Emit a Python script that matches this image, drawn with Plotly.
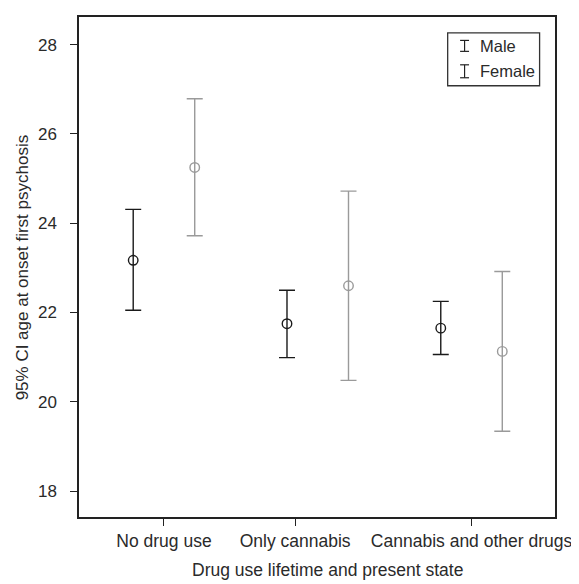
import plotly.graph_objects as go

categories = ["No drug use", "Only cannabis", "Cannabis and other drugs"]
group_pos = [1, 2, 3]
tick_pos = [1, 1.853, 3]

male_mean = [23.17, 21.75, 21.65]
male_upper = [24.31, 22.50, 22.25]
male_lower = [22.05, 20.99, 21.06]

female_mean = [25.25, 22.60, 21.13]
female_upper = [26.79, 24.72, 22.92]
female_lower = [23.72, 20.48, 19.34]

y_ticks = [18, 20, 22, 24, 26, 28]

MALE_C = "#1a1a1a"
FEMALE_C = "#9a9a9a"
TEXT_C = "#2a2a2a"
FONT = "Liberation Sans, Arial, sans-serif"
OFF = 0.2

# page has an 8px body margin; window coordinates below
PAGE = 8
WIN_W, WIN_H = 579, 584
W, H = WIN_W - PAGE, WIN_H - PAGE
L, R, T, B = 79, 558, 15, 517


def px(x):
    return (x - L) / (R - L)


def py(y):
    return (B - y) / (B - T)


fig = go.Figure()


def add_series(means, up, lo, shift, color, name):
    xs = [g + shift for g in group_pos]
    fig.add_trace(go.Scatter(
        x=xs, y=means, mode="markers", name=name, showlegend=False,
        marker=dict(symbol="circle-open", size=9.5, color=color, line=dict(width=1.4, color=color)),
        error_y=dict(type="data", symmetric=False,
                     array=[u - m for u, m in zip(up, means)],
                     arrayminus=[m - l for m, l in zip(means, lo)],
                     color=color, thickness=1.4, width=8),
    ))


add_series(male_mean, male_upper, male_lower, -OFF, MALE_C, "Male")
add_series(female_mean, female_upper, female_lower, OFF, FEMALE_C, "Female")

# legend box and glyphs
shapes = [dict(type="rect", xref="paper", yref="paper", x0=px(450), x1=px(542.5), y0=py(84), y1=py(31),
               line=dict(color="#333", width=1.3), fillcolor="rgba(0,0,0,0)")]
annotations = []
for (y0, y1, label, ty) in [(38.5, 49.5, "Male", 44.5), (63, 76, "Female", 69.5)]:
    cx = 467
    shapes.append(dict(type="line", xref="paper", yref="paper", x0=px(cx), x1=px(cx), y0=py(y1), y1=py(y0),
                       line=dict(color="#222", width=1.2)))
    for yy in (y0, y1):
        shapes.append(dict(type="line", xref="paper", yref="paper", x0=px(cx - 4.5), x1=px(cx + 4.5), y0=py(yy), y1=py(yy),
                           line=dict(color="#222", width=1.2)))
    annotations.append(dict(text=label, xref="paper", yref="paper", x=px(481), y=py(ty), xanchor="left",
                            yanchor="middle", showarrow=False, font=dict(size=16.5, color=TEXT_C, family=FONT)))

annotations.append(dict(text="Drug use lifetime and present state", xref="paper", yref="paper",
                        x=px(329), y=py(570), xanchor="center", yanchor="middle", showarrow=False,
                        font=dict(size=17.5, color=TEXT_C, family=FONT)))
annotations.append(dict(text="95% CI age at onset first psychosis", xref="paper", yref="paper",
                        x=px(22), y=py(266), xanchor="center", yanchor="middle", textangle=-90, showarrow=False,
                        font=dict(size=17, color=TEXT_C, family=FONT)))

fig.update_layout(
    width=W, height=H,
    margin=dict(l=L - PAGE, r=WIN_W - R, t=T - PAGE, b=WIN_H - B, pad=0),
    paper_bgcolor="white", plot_bgcolor="white",
    font=dict(family=FONT, size=17, color=TEXT_C),
    shapes=shapes, annotations=annotations,
    showlegend=False,
)
fig.update_xaxes(range=[0.4475, 3.5428], tickvals=tick_pos, ticktext=categories, ticks="outside", ticklen=7,
                 tickcolor="#222", tickwidth=1.3, showline=True, linecolor="#222", linewidth=1.5, mirror=True,
                 showgrid=False, zeroline=False, tickfont=dict(size=17.5))
fig.update_yaxes(range=[17.42, 28.62], tickvals=y_ticks, ticks="outside", ticklen=7, tickcolor="#222",
                 tickwidth=1.3, showline=True, linecolor="#222", linewidth=1.5, mirror=True, showgrid=False,
                 zeroline=False, tickfont=dict(size=17), ticklabelstandoff=10)

fig.write_html("out.html")
